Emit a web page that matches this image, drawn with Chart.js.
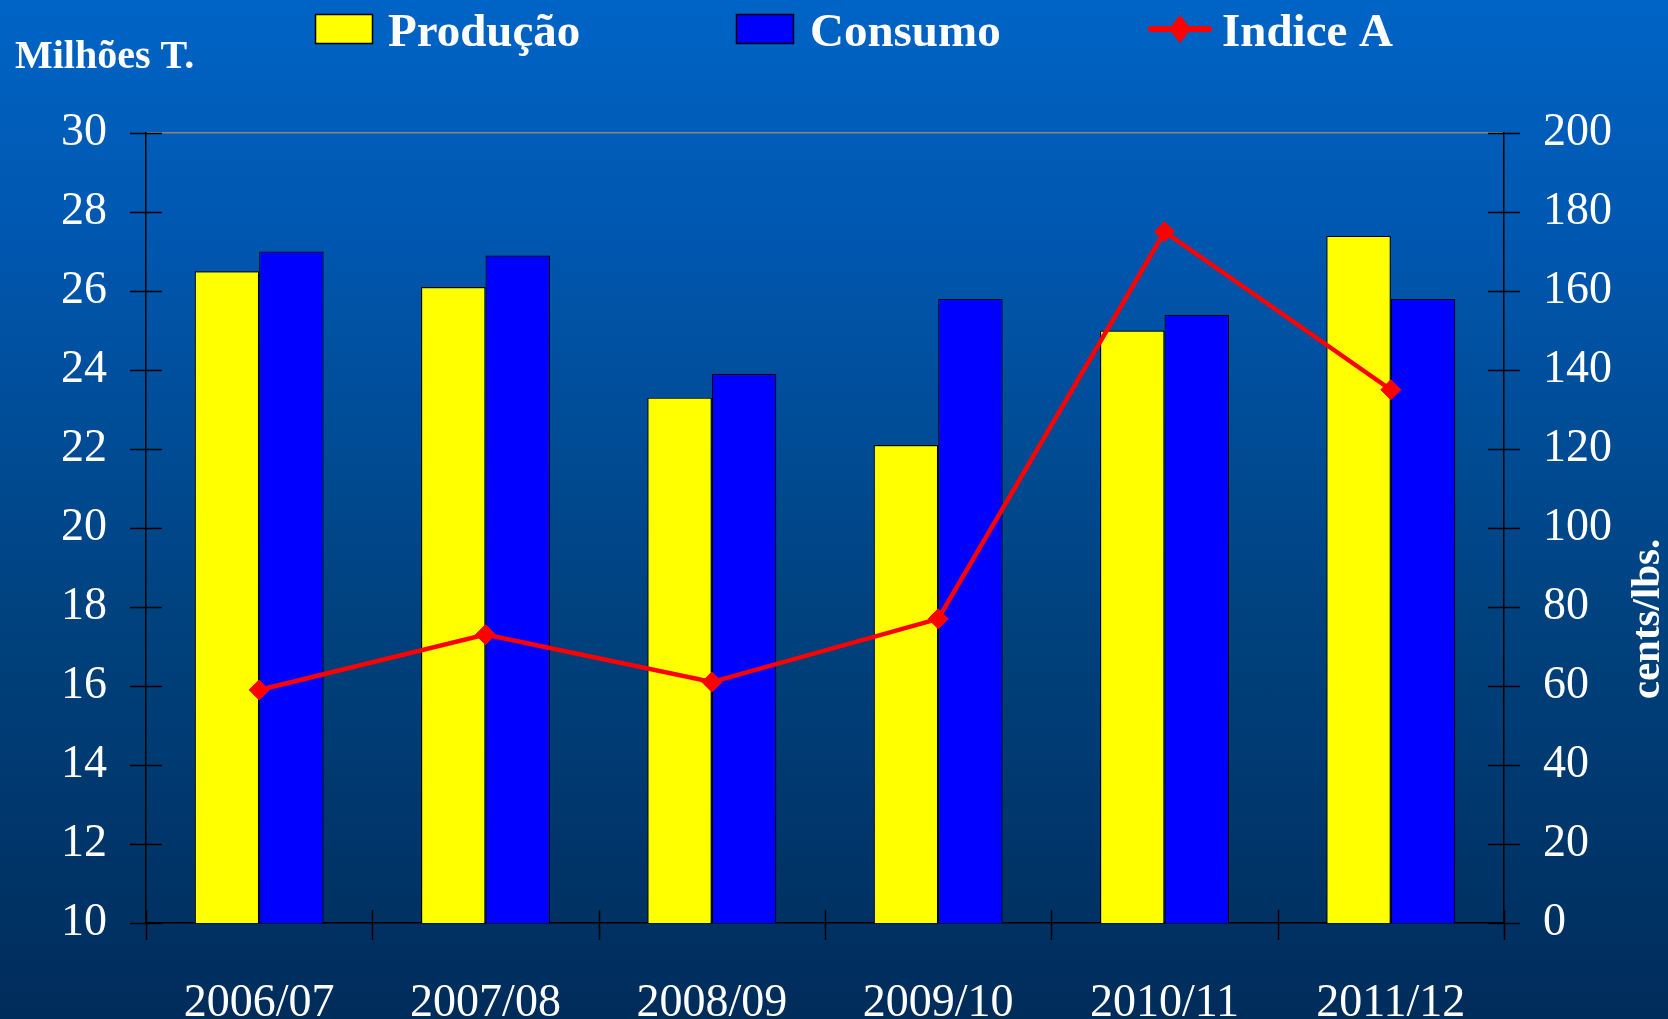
<!DOCTYPE html>
<html><head><meta charset="utf-8">
<script src="https://cdn.jsdelivr.net/npm/chart.js@4.4.0/dist/chart.umd.min.js"></script>
<style>
html,body{margin:0;padding:0;width:1668px;height:1019px;overflow:hidden;background:linear-gradient(#0064c6 0%,#0056ad 25%,#00427f 60%,#002c5a 100%);}
#wrap{position:relative;width:1668px;height:1019px;}
</style></head><body><div id="wrap"><canvas id="c" width="1668" height="1019"></canvas></div>
<script>
const categories = ['2006/07','2007/08','2008/09','2009/10','2010/11','2011/12'];
const producao = [26.5, 26.1, 23.3, 22.1, 25.0, 27.4];
const consumo  = [27.0, 26.9, 23.9, 25.8, 25.4, 25.8];
const indiceA  = [59, 73, 61, 77, 175, 135];
const seriesNames = ['Produção', 'Consumo', 'Indice A'];
const leftAxis = {min: 10, max: 30, step: 2};
const rightAxis = {min: 0, max: 200, step: 20};
const leftTitle = 'Milhões T.';
const rightTitle = 'cents/lbs.';

const SERIF = '"Liberation Serif", "Times New Roman", serif';
const YELLOW = '#ffff00', BLUE = '#0000ff', RED = '#ff0000';

const crossTicks = {
  id: 'crossTicks',
  afterDraw(chart) {
    const ctx = chart.ctx;
    ctx.save();
    ctx.strokeStyle = '#000';
    ctx.lineWidth = 1.5;
    ['y', 'y1'].forEach(id => {
      const s = chart.scales[id];
      const ax = id === 'y' ? s.right : s.left;
      s.ticks.forEach(t => {
        const py = Math.round(s.getPixelForValue(t.value)) + 0.5;
        ctx.beginPath(); ctx.moveTo(ax - 16, py); ctx.lineTo(ax + 16, py); ctx.stroke();
      });
    });
    const xs = chart.scales.x;
    for (let i = 0; i <= categories.length; i++) {
      const px = Math.round(xs.getPixelForValue(i - 0.5)) + 0.5;
      ctx.beginPath(); ctx.moveTo(px, xs.top - 13); ctx.lineTo(px, xs.top + 17); ctx.stroke();
    }
    ctx.restore();
  }
};

const customTexts = {
  id: 'customTexts',
  afterDraw(chart) {
    const ctx = chart.ctx;
    ctx.save();
    ctx.fillStyle = '#fff';
    ctx.textBaseline = 'alphabetic';
    ctx.textAlign = 'left';
    ctx.font = 'bold 40px ' + SERIF;
    ctx.fillText(leftTitle, 15, 68);
    // right rotated title
    ctx.save();
    ctx.translate(1659, 619);
    ctx.rotate(-Math.PI / 2);
    ctx.textAlign = 'center';
    ctx.font = 'bold 41px ' + SERIF;
    ctx.fillText(rightTitle, 0, 0);
    ctx.restore();

    // legend
    const ds = chart.data.datasets;
    ctx.font = 'bold 47px ' + SERIF;
    const boxes = [[315, 388], [736, 810]];
    boxes.forEach((b, i) => {
      ctx.fillStyle = ds[i].backgroundColor;
      ctx.fillRect(b[0], 14, 57, 29);
      ctx.strokeStyle = '#000'; ctx.lineWidth = 1.5;
      ctx.strokeRect(b[0] + 0.5, 14.5, 57, 29);
      ctx.fillStyle = '#fff';
      ctx.fillText(ds[i].label, b[1], 46);
    });
    ctx.strokeStyle = RED; ctx.lineWidth = 6; ctx.lineCap = 'round';
    ctx.beginPath(); ctx.moveTo(1151, 29); ctx.lineTo(1209, 29); ctx.stroke();
    ctx.fillStyle = RED;
    ctx.beginPath(); ctx.moveTo(1180, 15); ctx.lineTo(1191, 29); ctx.lineTo(1180, 43); ctx.lineTo(1169, 29); ctx.closePath(); ctx.fill();
    ctx.fillStyle = '#fff';
    ctx.fillText(ds[2].label, 1222, 46);
    ctx.restore();
  }
};

const tickFont = {family: SERIF, size: 46};

new Chart(document.getElementById('c'), {
  type: 'bar',
  data: {
    labels: categories,
    datasets: [
      {label: seriesNames[0], data: producao, backgroundColor: YELLOW, borderColor: '#000', borderWidth: 1.2, yAxisID: 'y', order: 2,
       categoryPercentage: 0.57, barPercentage: 1.0},
      {label: seriesNames[1], data: consumo, backgroundColor: BLUE, borderColor: '#000', borderWidth: 1.2, yAxisID: 'y', order: 2,
       categoryPercentage: 0.57, barPercentage: 1.0},
      {type: 'line', label: seriesNames[2], data: indiceA, yAxisID: 'y1', order: 0,
       borderColor: RED, backgroundColor: RED, borderWidth: 4.5, tension: 0,
       pointStyle: 'rectRot', pointRadius: 10, pointHoverRadius: 10, pointBackgroundColor: RED, pointBorderColor: RED, pointBorderWidth: 1}
    ]
  },
  options: {
    responsive: false,
    animation: false,
    layout: {padding: {top: 133, left: 0, right: 0, bottom: 0}},
    plugins: {legend: {display: false}, tooltip: {enabled: false}, title: {display: false}},
    scales: {
      x: {
        offset: true,
        grid: {display: false, drawTicks: false},
        border: {display: true, color: '#000', width: 1.5},
        ticks: {color: '#fff', font: tickFont, padding: 53, maxRotation: 0, autoSkip: false},
        afterFit(s) { s.height = 96; }
      },
      y: {
        position: 'left', min: leftAxis.min, max: leftAxis.max,
        grid: {display: true, drawTicks: false, lineWidth: 1.5,
               color: c => (c.tick && c.tick.value === leftAxis.max) ? '#8a8278' : 'rgba(0,0,0,0)'},
        border: {display: true, color: '#000', width: 1.5},
        ticks: {stepSize: leftAxis.step, color: '#fff', font: tickFont, padding: 39},
        afterFit(s) { s.width = 146; }
      },
      y1: {
        position: 'right', min: rightAxis.min, max: rightAxis.max,
        grid: {display: false, drawTicks: false},
        border: {display: true, color: '#000', width: 1.5},
        ticks: {stepSize: rightAxis.step, color: '#fff', font: tickFont, padding: 39},
        afterFit(s) { s.width = 164; }
      }
    }
  },
  plugins: [crossTicks, customTexts]
});
</script>
</body></html>
